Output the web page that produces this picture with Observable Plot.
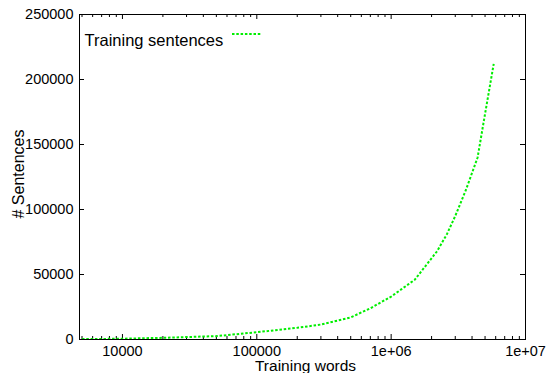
<!DOCTYPE html>
<html>
<head>
<meta charset="utf-8">
<script src="https://cdn.jsdelivr.net/npm/d3@7"></script>
<script src="https://cdn.jsdelivr.net/npm/@observablehq/plot@0.6"></script>
<style>
  html, body { margin: 0; padding: 0; background: #fff; }
  #chart svg { display: block; font-family: "Liberation Sans", Arial, sans-serif; }
</style>
</head>
<body>
<div id="chart"></div>
<script>
// Data
const words = [5000, 10000, 20000, 50000, 100000, 200000, 300000, 500000, 700000, 1000000, 1500000, 2200000, 2600000, 3000000, 3600000, 4400000, 4950000, 5800000];
const sentences = [300, 600, 1300, 2600, 5600, 9000, 11500, 17000, 24000, 33000, 46000, 68000, 81000, 95000, 115000, 140000, 171000, 212000];
const xTickValues = [10000, 100000, 1000000, 10000000];
const xTickLabels = ["10000", "100000", "1e+06", "1e+07"];
const yTickValues = [0, 50000, 100000, 150000, 200000, 250000];
const yTickLabels = ["0", "50000", "100000", "150000", "200000", "250000"];
const seriesName = "Training sentences";
const xLabel = "Training words";
const yLabel = "# Sentences";

const data = words.map((w, i) => ({words: w, sentences: sentences[i]}));

const W = 549, H = 373;
const mL = 79, mR = 24, mT = 14, mB = 34;
const innerW = W - mL - mR, innerH = H - mT - mB;
const xDomain = [4790, 1e7];

// minor ticks for log axis
const xMinor = [];
for (let e = 3; e <= 6; e++) {
  for (let m = 2; m <= 9; m++) {
    const v = m * Math.pow(10, e);
    if (v >= xDomain[0] && v <= xDomain[1]) xMinor.push(v);
  }
}

const green = "#00ee00";
const fs = 14.5;
const dash = "2.5,1.8";

const chart = Plot.plot({
  width: W,
  height: H,
  marginLeft: mL,
  marginRight: mR,
  marginTop: mT,
  marginBottom: mB,
  x: {type: "log", domain: xDomain},
  y: {domain: [0, 250000]},
  marks: [
    Plot.axisX(xTickValues, {tickSize: 0, tickPadding: 6, fontSize: fs, fill: "#000",
      tickFormat: d => xTickLabels[xTickValues.indexOf(d)], label: null}),
    Plot.axisY(yTickValues, {tickSize: 0, tickPadding: 6, fontSize: fs, fill: "#000",
      tickFormat: d => yTickLabels[yTickValues.indexOf(d)], label: null}),
    // inward tick marks (bottom & top)
    Plot.tickX(xTickValues, {x: d => d, insetTop: innerH - 5, stroke: "#000"}),
    Plot.tickX(xTickValues, {x: d => d, insetBottom: innerH - 5, stroke: "#000"}),
    Plot.tickX(xMinor, {x: d => d, insetTop: innerH - 3, stroke: "#000"}),
    Plot.tickX(xMinor, {x: d => d, insetBottom: innerH - 3, stroke: "#000"}),
    // inward tick marks (left & right)
    Plot.tickY(yTickValues, {y: d => d, insetRight: innerW - 5, stroke: "#000"}),
    Plot.tickY(yTickValues, {y: d => d, insetLeft: innerW - 5, stroke: "#000"}),
    Plot.line(data, {x: "words", y: "sentences", stroke: green, strokeWidth: 2,
      strokeDasharray: dash, strokeLinecap: "butt", strokeLinejoin: "miter"}),
    Plot.frame({stroke: "#000", strokeWidth: 1}),
    // axis titles
    Plot.text([xLabel], {text: d => d, frameAnchor: "bottom", lineAnchor: "top", dy: 20, dx: 3, fontSize: 15.5, fill: "#000"}),
    Plot.text([yLabel], {text: d => d, frameAnchor: "left", textAnchor: "middle", rotate: -90, dx: -(mL - 18), dy: -3, fontSize: 16, fill: "#000"}),
    // legend label
    Plot.text([seriesName], {text: d => d, frameAnchor: "top-left", textAnchor: "start", dx: 5, dy: 20, fontSize: 16.5, fill: "#000"})
  ]
});

// legend sample line
const svg = d3.select(chart);
svg.append("line")
  .attr("x1", 232).attr("x2", 262).attr("y1", 34).attr("y2", 34)
  .attr("stroke", green).attr("stroke-width", 2).attr("stroke-dasharray", dash);

document.getElementById("chart").appendChild(chart);
</script>
</body>
</html>
